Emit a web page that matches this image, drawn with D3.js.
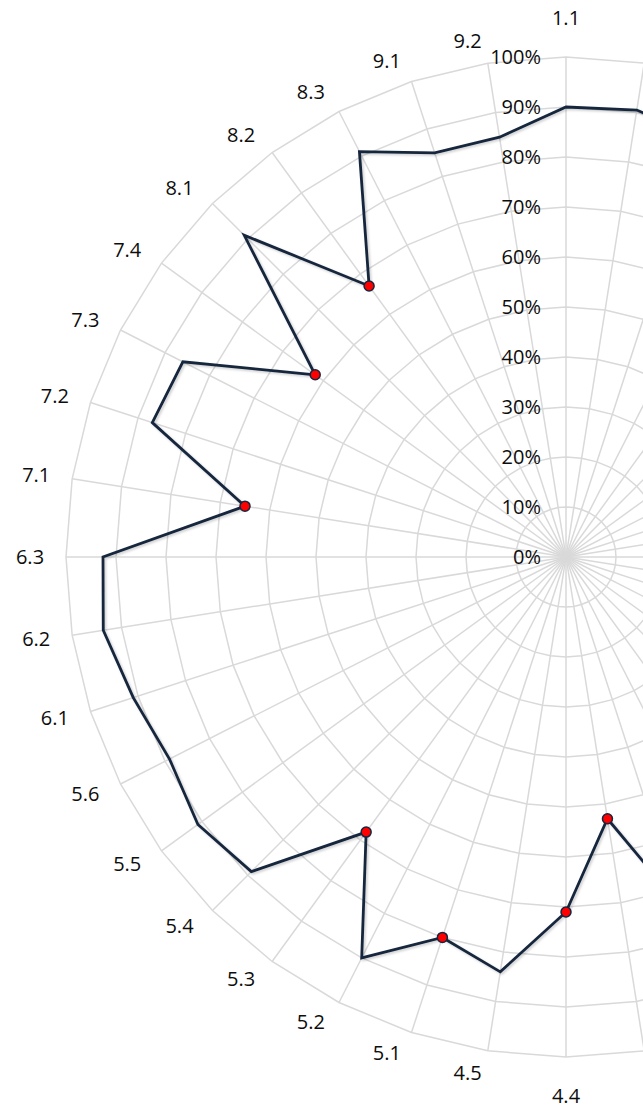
<!DOCTYPE html>
<html>
<head>
<meta charset="utf-8">
<script src="https://cdn.jsdelivr.net/npm/d3@7"></script>
<style>
  html, body { margin: 0; padding: 0; background: #ffffff; overflow: hidden; }
  svg { display: block; }
  text { font-family: "Open Sans", Lato, sans-serif; fill: #0d0d0d; }
</style>
</head>
<body>
<svg id="chart" width="643" height="1110"></svg>
<script>
// Categories clockwise from the top
const categories = [
  "1.1","1.2","1.3","1.4","1.5","1.6",
  "2.1","2.2","2.3","2.4","2.5","2.6",
  "3.1","3.2","3.3","3.4","3.5",
  "4.1","4.2","4.3","4.4","4.5",
  "5.1","5.2","5.3","5.4","5.5","5.6",
  "6.1","6.2","6.3",
  "7.1","7.2","7.3","7.4",
  "8.1","8.2","8.3",
  "9.1","9.2"
];
// Series values (fraction)
const values = [
  0.90, 0.905, 0.88, 0.85, 0.82, 0.86,
  0.80, 0.84, 0.78, 0.83, 0.87, 0.81,
  0.85, 0.79, 0.83, 0.76, 0.80,
  0.70, 0.73, 0.53, 0.71, 0.84,
  0.80, 0.90, 0.68, 0.89, 0.91, 0.89,
  0.91, 0.937, 0.926,
  0.65, 0.87, 0.86, 0.62,
  0.91, 0.67, 0.91,
  0.85, 0.85
];
// Categories carrying a red marker
const markedCategories = ["8.2","7.4","7.1","5.3","5.1","4.4","4.3"];
// Radial tick values and labels
const tickValues = [0,0.1,0.2,0.3,0.4,0.5,0.6,0.7,0.8,0.9,1.0];
const tickLabels = ["0%","10%","20%","30%","40%","50%","60%","70%","80%","90%","100%"];

const cx = 566, cy = 557, R = 500;
const svg = d3.select("#chart");

const defs = svg.append("defs");
const f = defs.append("filter").attr("id","shadow").attr("x","-10%").attr("y","-10%").attr("width","120%").attr("height","120%");
f.append("feDropShadow").attr("dx",1.5).attr("dy",1.5).attr("stdDeviation",1.2)
  .attr("flood-color","#000").attr("flood-opacity",0.2);

const angle = d3.scaleBand().domain(categories).range([0, 2*Math.PI]).paddingInner(0).paddingOuter(0).align(0);
const r = d3.scaleLinear().domain([0,1]).range([0,R]);

const g = svg.append("g").attr("transform", `translate(${cx},${cy})`);
const pt = (a, rad) => [rad*Math.sin(a), -rad*Math.cos(a)];

// Spokes
g.selectAll("line.spoke").data(categories).enter().append("line")
  .attr("class","spoke")
  .attr("x1",0).attr("y1",0)
  .attr("x2", d => pt(angle(d), r(1))[0])
  .attr("y2", d => pt(angle(d), r(1))[1])
  .attr("stroke","#d9d9d9").attr("stroke-width",1.5);

// Rings (polygons)
const ringLine = d3.lineRadial().angle(d => angle(d)).curve(d3.curveLinearClosed);
g.selectAll("path.ring").data(tickValues.slice(1)).enter().append("path")
  .attr("class","ring")
  .attr("d", t => ringLine.radius(() => r(t))(categories))
  .attr("fill","none").attr("stroke","#d9d9d9").attr("stroke-width",1.5);

// Tick labels
g.selectAll("text.tick").data(tickValues).enter().append("text")
  .attr("class","tick")
  .attr("x", -25)
  .attr("y", (d) => -r(d))
  .attr("dy","0.35em")
  .attr("text-anchor","end")
  .style("font-size","20px")
  .text((d,i) => tickLabels[i]);

// Category label placement (outside the outer ring)
function labelPos(a) {
  const s = Math.sin(a), c = Math.cos(a);
  if (Math.abs(s) < 1e-6) {
    const p = pt(a, 539);
    return p;
  }
  const p = pt(a, 536);
  return [p[0] + 15*c*c*Math.sign(s), p[1] + 14*c];
}
g.selectAll("text.cat").data(categories).enter().append("text")
  .attr("class","cat")
  .attr("x", d => labelPos(angle(d))[0])
  .attr("y", d => labelPos(angle(d))[1])
  .attr("dy","0.35em")
  .attr("text-anchor","middle")
  .style("font-size","20px")
  .text(d => d);

// Series line
const data = categories.map((c,i) => ({c, v: values[i]}));
const seriesLine = d3.lineRadial().angle(d => angle(d.c)).radius(d => r(d.v)).curve(d3.curveLinearClosed);
g.append("path").datum(data)
  .attr("d", seriesLine)
  .attr("fill","none").attr("stroke","#15263e").attr("stroke-width",2.8)
  .attr("stroke-linejoin","miter")
  .attr("filter","url(#shadow)");

// Markers
g.selectAll("circle.mark").data(data.filter(d => markedCategories.includes(d.c))).enter().append("circle")
  .attr("class","mark")
  .attr("cx", d => pt(angle(d.c), r(d.v))[0])
  .attr("cy", d => pt(angle(d.c), r(d.v))[1])
  .attr("r", 5)
  .attr("fill","#ff0000").attr("stroke","#15263e").attr("stroke-width",1.5);
</script>
</body>
</html>
